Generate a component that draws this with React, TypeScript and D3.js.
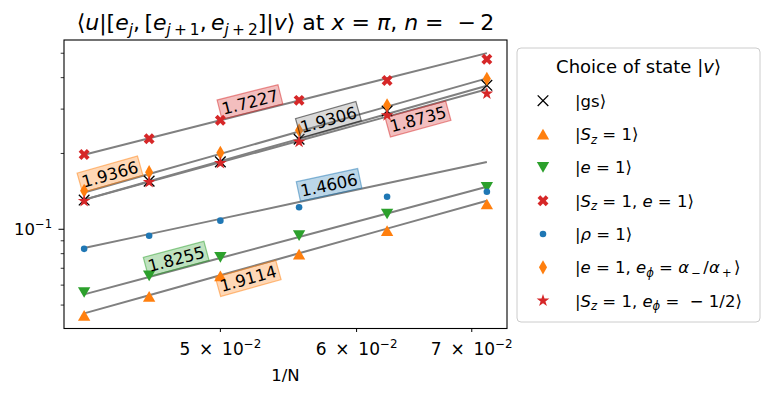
import React from 'react'
import * as d3 from 'd3'

// system sizes N, plotted as 1/N
const Ns = [24, 22, 20, 18, 16, 14]
// <u|[e_j,[e_j+1,e_j+2]]|v> for each state |v>
const gsVals = [0.1306, 0.1553, 0.1852, 0.2278, 0.2949, 0.3728]
const sz1Vals = [0.0455, 0.0541, 0.0653, 0.0796, 0.0987, 0.126]
const e1Vals = [0.0561, 0.0653, 0.0774, 0.0943, 0.115, 0.1466]
const sz1e1Vals = [0.198, 0.229, 0.271, 0.325, 0.39, 0.473]
const rhoVals = [0.0836, 0.0943, 0.1082, 0.1223, 0.1346, 0.1409]
const ephiVals = [0.1422, 0.1686, 0.2011, 0.2473, 0.3107, 0.3963]
const szphiVals = [0.1294, 0.1539, 0.1831, 0.2223, 0.2836, 0.3456]
// power-law fits  y = amp * (1/N)^exp
const fitExps = [1.9306, 1.9114, 1.8255, 1.7227, 1.4606, 1.9366, 1.8735]
const fitAmps = [60.6, 20.14, 18.24, 47.2, 8.74, 65.9, 50.5]
// where the exponent label sits (in 1/N) and on which side of its line
const labelAt = [0.058, 0.0517, 0.0473, 0.0522, 0.058, 0.0433, 0.0649]
const labelSide = [1, -1, 1, 1, 1, 1, -1]
const xTicks = [0.05, 0.06, 0.07]
const yMajor = [0.1]
const yMinor = [0.05, 0.06, 0.07, 0.08, 0.09, 0.2, 0.3, 0.4, 0.5]

const seriesVals = [gsVals, sz1Vals, e1Vals, sz1e1Vals, rhoVals, ephiVals, szphiVals]

type Seg = [string, string?]
const legendLabels: Seg[][] = [
  [['|gs⟩']],
  [['|'], ['S', 'i'], ['z', 'ib'], [' = 1⟩']],
  [['|'], ['e', 'i'], [' = 1⟩']],
  [['|'], ['S', 'i'], ['z', 'ib'], [' = 1, '], ['e', 'i'], [' = 1⟩']],
  [['|'], ['ρ', 'i'], [' = 1⟩']],
  [['|'], ['e', 'i'], [' = 1, '], ['e', 'i'], ['ϕ', 'ib'], [' = '], ['α', 'i'], ['\u2009−\u2009', 'b'], ['/'], ['α', 'i'], ['\u2009+\u2009', 'b'], ['⟩']],
  [['|'], ['S', 'i'], ['z', 'ib'], [' = 1, '], ['e', 'i'], ['ϕ', 'ib'], [' =  − 1/2⟩']],
]
const titleSegs: Seg[] = [
  ['⟨'], ['u', 'i'], ['|['], ['e', 'i'], ['j', 'ib'], [',\u2009['], ['e', 'i'], ['j', 'ib'], ['\u2009+\u20091', 'b'],
  [',\u2009'], ['e', 'i'], ['j', 'ib'], ['\u2009+\u20092', 'b'], [']|'], ['v', 'i'], ['⟩ at '], ['x', 'i'], [' = '],
  ['π', 'i'], [', '], ['n', 'i'], [' =  −\u20092'],
]

const colors = ['#000000', '#ff7f0e', '#2ca02c', '#d62728', '#1f77b4', '#ff7f0e', '#d62728']
const markers = [
  { type: d3.symbolX, size: 75, rot: 0, stroke: true },
  { type: d3.symbolTriangle, size: 66, rot: 0 },
  { type: d3.symbolTriangle, size: 66, rot: 180 },
  { type: d3.symbolCross, size: 75, rot: 45 },
  { type: d3.symbolCircle, size: 34, rot: 0 },
  { type: d3.symbolDiamond, size: 57, rot: 0 },
  { type: d3.symbolStar, size: 50, rot: 0 },
]

const FS = 16.5
const FONT = 'DejaVu Sans'

function MathText({ segs, x, y, fs, anchor = 'start' }: { segs: Seg[]; x: number; y: number; fs: number; anchor?: string }) {
  let shift = 0
  return (
    <text x={x} y={y} fontSize={fs} textAnchor={anchor} style={{ whiteSpace: 'pre' }}>
      {segs.map(([t, f = ''], k) => {
        const small = f.includes('b') || f.includes('p')
        const target = f.includes('b') ? fs * 0.22 : f.includes('p') ? -fs * 0.42 : 0
        const dy = target - shift
        shift = target
        return (
          <tspan key={k} dy={dy || undefined} fontStyle={f.includes('i') ? 'italic' : undefined}
            fontSize={small ? fs * 0.7 : undefined}>{t}</tspan>
        )
      })}
    </text>
  )
}

function Marker({ i, x, y }: { i: number; x: number; y: number }) {
  const m = markers[i]
  const d = d3.symbol(m.type, m.size)() as string
  let dy = 0
  if (m.type === d3.symbolTriangle) {
    const a = Math.sqrt(m.size / (3 * Math.sqrt(3)))
    dy = m.rot ? -a / 2 : a / 2
  }
  const c = colors[i]
  return (
    <path d={d} transform={`translate(${x},${y + dy}) rotate(${m.rot})`}
      fill={m.stroke ? 'none' : c} stroke={m.stroke ? c : 'none'} strokeWidth={m.stroke ? 1.3 : 0} />
  )
}

export default function App() {
  const W = 769, H = 393
  const L = 64, R = 507, T = 40, B = 328.5
  const xs = Ns.map(n => 1 / n)
  const fit = (i: number, x: number) => fitAmps[i] * Math.pow(x, fitExps[i])

  const lx = xs.map(Math.log10)
  const xlo = d3.min(lx)!, xhi = d3.max(lx)!, xm = (xhi - xlo) * 0.05
  const x = d3.scaleLog().domain([10 ** (xlo - xm), 10 ** (xhi + xm)]).range([L, R])

  const allY = seriesVals.flat().concat(fitExps.flatMap((_, i) => [fit(i, xs[0]), fit(i, xs[xs.length - 1])]))
  const ly = allY.map(Math.log10)
  const ylo = d3.min(ly)!, yhi = d3.max(ly)!, ym = (yhi - ylo) * 0.05
  const y = d3.scaleLog().domain([10 ** (ylo - ym), 10 ** (yhi + ym)]).range([B, T])

  const fitPath = (i: number) => d3.line<number>().x(v => x(v)).y(v => y(fit(i, v)))(xs) as string

  const [y0, y1] = y.domain()
  const minorY = yMinor.filter(v => v >= y0 && v <= y1)

  return (
    <svg width={W} height={H} style={{ position: 'absolute', left: 0, top: 0, background: '#fff' }}
      fontFamily={FONT}>
      {/* fits */}
      {fitExps.map((_, i) => (
        <path key={'f' + i} d={fitPath(i)} fill="none" stroke="#808080" strokeWidth={2} />
      ))}
      {/* data */}
      {seriesVals.map((vals, i) => (
        <g key={'s' + i}>
          {vals.map((v, k) => <Marker key={k} i={i} x={x(xs[k])} y={y(v)} />)}
        </g>
      ))}
      {/* exponent labels */}
      {fitExps.map((e, i) => {
        const px = x(labelAt[i]), py = y(fit(i, labelAt[i]))
        const ax = x(xs[0]), ay = y(fit(i, xs[0]))
        const bx = x(xs[5]), by = y(fit(i, xs[5]))
        const ang = Math.atan2(by - ay, bx - ax) * 180 / Math.PI
        const fs = 16.5
        const w = fs * 3.5 + 5, h = 20
        const cy = -labelSide[i] * 10.5
        const col = colors[i] === '#000000' ? '#808080' : colors[i]
        return (
          <g key={'l' + i} transform={`translate(${px},${py}) rotate(${ang})`}>
            <rect x={-w / 2} y={cy - h / 2} width={w} height={h} fill={col} fillOpacity={0.3}
              stroke={colors[i]} strokeOpacity={0.5} strokeWidth={1.2} />
            <text x={0} y={cy + fs * 0.36} fontSize={fs} textAnchor="middle" fill="#000">{e.toFixed(4)}</text>
          </g>
        )
      })}
      {/* frame */}
      <rect x={L} y={T} width={R - L} height={B - T} fill="none" stroke="#000" strokeWidth={1.1} />
      {/* x ticks */}
      {xTicks.map(t => (
        <g key={'xt' + t}>
          <line x1={x(t)} x2={x(t)} y1={B} y2={B + 3.5} stroke="#000" strokeWidth={1} />
          <MathText segs={[[`${Math.round(t * 100)}\u2009 × \u200910`], ['−2', 'p']]} x={x(t)} y={355} fs={17} anchor="middle" />
        </g>
      ))}
      <text x={(L + R) / 2} y={381} fontSize={FS} textAnchor="middle">1/N</text>
      {/* y ticks */}
      {yMajor.map(t => (
        <g key={'ym' + t}>
          <line x1={L - 5.5} x2={L} y1={y(t)} y2={y(t)} stroke="#000" strokeWidth={1} />
          <MathText segs={[['10'], ['−1', 'p']]} x={52} y={y(t) + 6} fs={FS} anchor="end" />
        </g>
      ))}
      {minorY.map(t => (
        <line key={'yn' + t} x1={L - 3.3} x2={L} y1={y(t)} y2={y(t)} stroke="#000" strokeWidth={0.8} />
      ))}
      {/* title */}
      <MathText segs={titleSegs} x={(L + R) / 2} y={30} fs={22} anchor="middle" />
      {/* legend */}
      <rect x={517} y={48} width={243} height={274} rx={4} fill="#fff" fillOpacity={0.8} stroke="#cccccc" />
      <MathText segs={[['Choice of state |'], ['v', 'i'], ['⟩']]} x={638.5} y={73} fs={18} anchor="middle" />
      {legendLabels.map((segs, i) => {
        const cy = 100.7 + i * 33.33
        return (
          <g key={'lg' + i}>
            <Marker i={i} x={543} y={cy} />
            <MathText segs={segs} x={575} y={cy + 6} fs={FS} />
          </g>
        )
      })}
    </svg>
  )
}
